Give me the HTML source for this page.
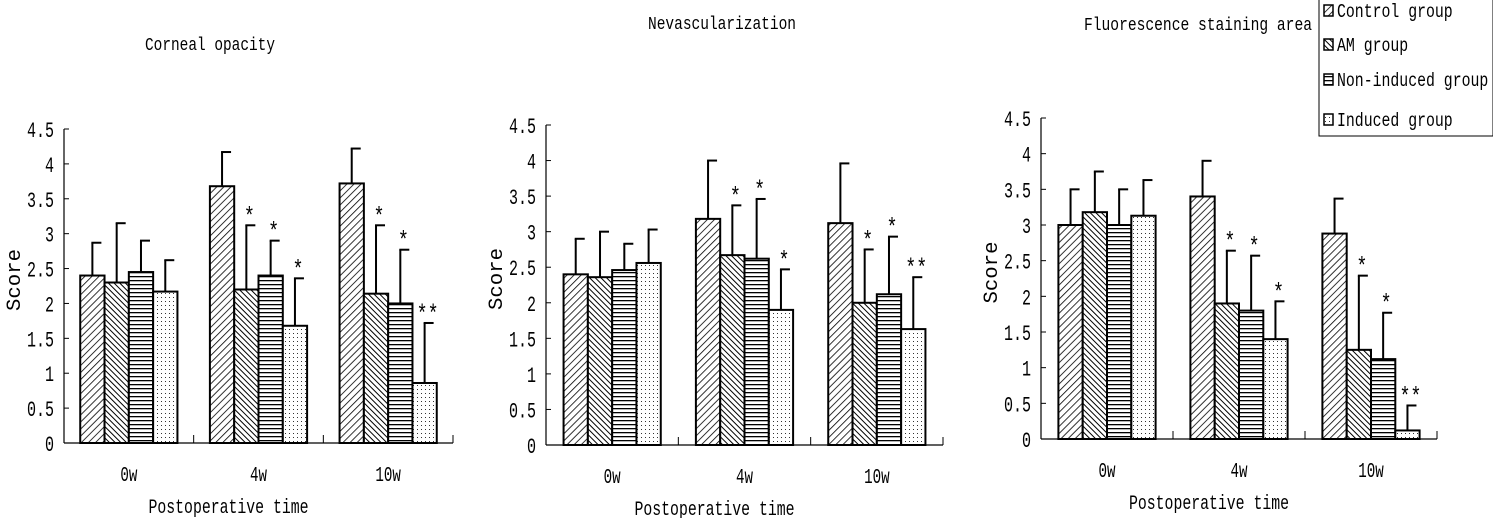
<!DOCTYPE html>
<html><head><meta charset="utf-8">
<style>
html,body{margin:0;padding:0;background:#fff;}
svg{display:block;font-family:"Liberation Mono","Noto Serif CJK SC",monospace;}
</style></head>
<body>
<svg id="chart" width="1493" height="518" viewBox="0 0 1493 518" xmlns="http://www.w3.org/2000/svg">
<defs>
<pattern id="p0" width="5" height="5" patternUnits="userSpaceOnUse" patternTransform="rotate(45)"><rect width="5" height="5" fill="#fff"/><line x1="0" y1="0" x2="0" y2="5" stroke="#000" stroke-width="1.6"/></pattern>
<pattern id="p1" width="4" height="4" patternUnits="userSpaceOnUse" patternTransform="rotate(-45)"><rect width="4" height="4" fill="#fff"/><line x1="0" y1="0" x2="0" y2="4" stroke="#000" stroke-width="2"/></pattern>
<pattern id="p2" width="4" height="4" patternUnits="userSpaceOnUse"><rect width="4" height="4" fill="#fff"/><line x1="0" y1="0.5" x2="4" y2="0.5" stroke="#000" stroke-width="1.6"/></pattern>
<pattern id="p3" width="4" height="4" patternUnits="userSpaceOnUse"><rect width="4" height="4" fill="#fff"/><rect x="1" y="1" width="1" height="1" fill="#333"/></pattern>
</defs>
<g id="plots"></g>
<g>
<rect x="1319" y="-1" width="174" height="137" fill="#fff" stroke="#000" stroke-width="1"/>
<g id="legend-items"></g>
</g>
</svg>
<script>
const categories = ["0w","4w","10w"];
const groups = ["Control group","AM group","Non-induced group","Induced group"];
const titles = ["Corneal opacity","Nevascularization","Fluorescence staining area"];
const yTicks = [0,0.5,1,1.5,2,2.5,3,3.5,4,4.5];
const tickLabels = ["0","0.5","1","1.5","2","2.5","3","3.5","4","4.5"];
// values per panel: [category][group]
const opacityMeans = [[2.4,2.3,2.45,2.17],[3.68,2.2,2.4,1.68],[3.72,2.14,2.0,0.86]];
const opacityErr   = [[2.87,3.15,2.9,2.62],[4.17,3.12,2.9,2.36],[4.22,3.12,2.77,1.72]];
const nevasMeans   = [[2.4,2.36,2.46,2.56],[3.18,2.67,2.62,1.9],[3.12,2.0,2.12,1.63]];
const nevasErr     = [[2.9,3.0,2.83,3.03],[4.0,3.37,3.46,2.47],[3.96,2.75,2.93,2.36]];
const fluorMeans   = [[3.0,3.18,3.0,3.13],[3.4,1.9,1.8,1.4],[2.88,1.25,1.12,0.12]];
const fluorErr     = [[3.5,3.75,3.5,3.63],[3.9,2.64,2.57,1.93],[3.37,2.29,1.77,0.47]];
const marks = [["","","",""],["","*","*","*"],["","*","*","**"]];

const NS="http://www.w3.org/2000/svg";
function mk(tag,attrs,parent,text){const e=document.createElementNS(NS,tag);for(const k in attrs)e.setAttribute(k,attrs[k]);if(text!==undefined)e.textContent=text;parent.appendChild(e);return e;}

const layouts=[
 {x0:64,x1:453,y0:443,yTop:129,titleX:210,titleY:50,slug:"corneal-opacity"},
 {x0:546,x1:943,y0:445,yTop:125,titleX:722,titleY:29,slug:"nevascularization"},
 {x0:1041,x1:1437,y0:439,yTop:118,titleX:1198,titleY:30,slug:"fluorescence-area"}
];
const titleW=[130,148,228];
const meansAll=[opacityMeans,nevasMeans,fluorMeans];
const errAll=[opacityErr,nevasErr,fluorErr];
const plots=document.getElementById('plots');

layouts.forEach((L,pi)=>{
 const g=mk('g',{},plots);
 
 
 const yS=v=>L.y0-(v/4.5)*(L.y0-L.yTop);
 const gw=(L.x1-L.x0)/3;
 const bw=24.3;
 const off=(gw-4*bw)/2;
 const t=mk('text',{x:L.titleX,y:L.titleY,'font-size':18,'text-anchor':'middle',textLength:titleW[pi],lengthAdjust:'spacingAndGlyphs'},g,titles[pi]);
 
 
 categories.forEach((c,ci)=>{
  groups.forEach((gr,gi)=>{
   const m=meansAll[pi][ci][gi], e=errAll[pi][ci][gi];
   const bx=L.x0+ci*gw+off+gi*bw;
   const cx=bx+bw/2;
   const el=mk('line',{x1:cx,x2:cx,y1:yS(m),y2:yS(e),stroke:'#000','stroke-width':2},g);
   
   
   mk('line',{x1:cx-1,x2:cx+9,y1:yS(e),y2:yS(e),stroke:'#000','stroke-width':2},g);
   const r=mk('rect',{x:bx,y:yS(m),width:bw,height:yS(0)-yS(m),fill:'url(#p'+gi+')',stroke:'#000','stroke-width':2},g);
   
   
   if(marks[ci][gi]){
    const s=mk('text',{x:cx+3,y:yS(e)-2,'font-size':24,'text-anchor':'middle',textLength:marks[ci][gi].length*11,lengthAdjust:'spacingAndGlyphs'},g,marks[ci][gi]);
    
    
   }
  });
  const xl=mk('text',{x:L.x0+ci*gw+gw/2,y:L.y0+38,'font-size':21,'text-anchor':'middle',textLength:c.length*8.5,lengthAdjust:'spacingAndGlyphs'},g,c);
  
  
  mk('line',{x1:L.x0+(ci+1)*gw,x2:L.x0+(ci+1)*gw,y1:L.y0,y2:L.y0-8,stroke:'#000','stroke-width':1},g);
 });
 const ya=mk('line',{x1:L.x0,x2:L.x0,y1:L.y0,y2:L.yTop,stroke:'#000','stroke-width':1.2},g);
 
 
 const xa=mk('line',{x1:L.x0,x2:L.x1,y1:L.y0,y2:L.y0,stroke:'#000','stroke-width':1.2},g);
 
 
 yTicks.forEach((v,i)=>{
  mk('line',{x1:L.x0,x2:L.x0+5,y1:yS(v),y2:yS(v),stroke:'#000','stroke-width':1},g);
  const tl=mk('text',{x:L.x0-10,y:yS(v)+8,'font-size':22,'text-anchor':'end',textLength:tickLabels[i].length*9,lengthAdjust:'spacingAndGlyphs'},g,tickLabels[i]);
  
  
 });
 const yl=mk('text',{x:0,y:0,'font-size':20,'text-anchor':'middle',textLength:62,lengthAdjust:'spacingAndGlyphs',transform:'translate('+(L.x0-44)+','+((L.y0+L.yTop)/2-6)+') rotate(-90)'},g,'Score');
 
 
 const xt=mk('text',{x:(L.x0+L.x1)/2-30,y:L.y0+70,'font-size':20,'text-anchor':'middle',textLength:160,lengthAdjust:'spacingAndGlyphs'},g,'Postoperative time');
 
 
});

const li=document.getElementById('legend-items');
const ly=[15,49,84,124];
groups.forEach((gr,gi)=>{
 const e=mk('g',{},li);
 
 
 mk('rect',{x:1324,y:ly[gi]-10,width:9,height:11,fill:'url(#p'+gi+')',stroke:'#000','stroke-width':1.5},e);
 mk('text',{x:1337,y:ly[gi]+2,'font-size':19,textLength:gr.length*8.9,lengthAdjust:'spacingAndGlyphs'},e,gr);
});
</script>
</body></html>
